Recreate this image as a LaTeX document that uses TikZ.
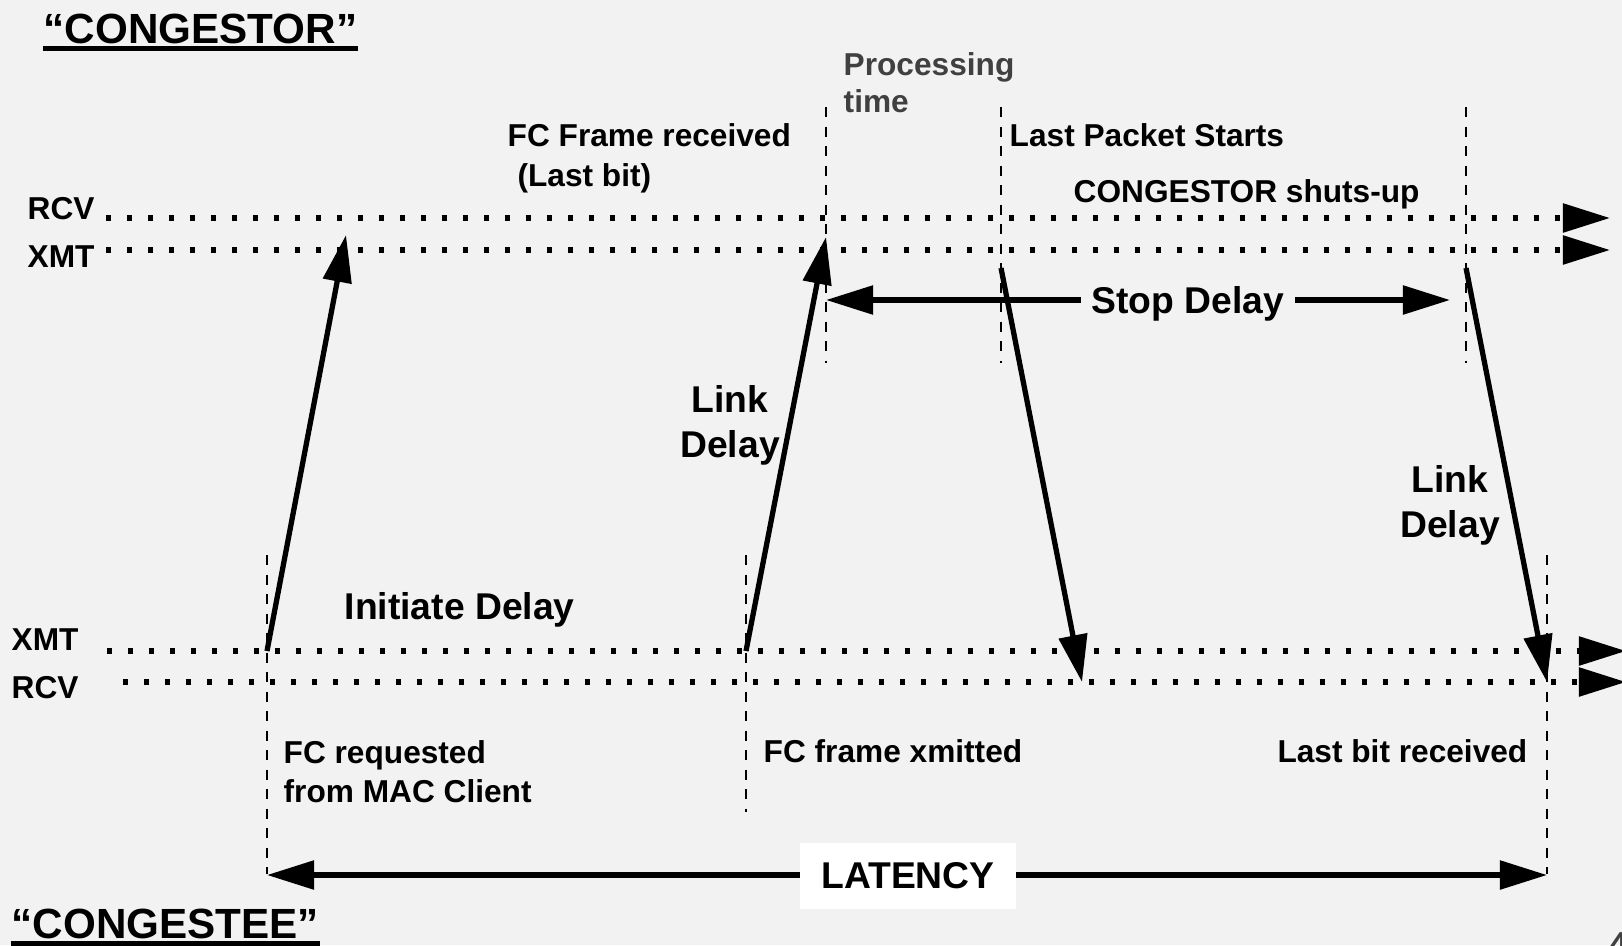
\documentclass[tikz,border=0pt]{standalone}
\usepackage{fontspec}
\setmainfont{Liberation Sans}
\usepackage{tikz}
\usetikzlibrary{positioning}
\usetikzlibrary{arrows.meta}
\definecolor{slidebg}{HTML}{F2F2F2}
\definecolor{procgray}{HTML}{404040}
\tikzset{
  lbl/.style={inner sep=0pt, font=\fontsize{9}{11.4}\selectfont\bfseries},
  biglbl/.style={inner sep=0pt, font=\fontsize{10.6}{12.8}\selectfont\bfseries},
  ttl/.style={inner sep=0pt, font=\fontsize{12}{14}\selectfont\bfseries},
  sigline/.style={line width=1.5pt, dash pattern=on 1.5pt off 4.47pt, -{Triangle[length=13.4pt,width=8pt]}},
  guide/.style={line width=0.8pt, dash pattern=on 2.85pt off 2.7pt},
  frame/.style={line width=1.5pt, -{Triangle[length=13.4pt,width=8pt]}},
  span/.style={line width=1.5pt, {Triangle[length=13.4pt,width=8pt]}-{Triangle[length=13.4pt,width=8pt]}},
  uline/.style={line width=1.42pt},
}

\begin{document}
\begin{tikzpicture}[x=0.01cm, y=-0.01cm]
\useasboundingbox (0,0) rectangle (1622,945);
\clip (0,0) rectangle (1622,945);
\fill[slidebg] (0,0) rectangle (1622,945);

% titles
\node[ttl, anchor=base west] (congestor) at (43,43) {“CONGESTOR”};
\draw[uline] ([yshift=-1.7pt]congestor.base west) -- ([yshift=-1.7pt]congestor.base east);
\node[ttl, anchor=base west] (congestee) at (11,938) {“CONGESTEE”};
\draw[uline] ([yshift=-1.45pt]congestee.base west) -- ([yshift=-1.45pt]congestee.base east);

% time guides
\foreach \x/\ya/\yb in {267/555/874, 746/555/812, 826/107/363, 1001/107/363, 1466/107/363, 1547/555/874}
  \draw[guide] (\x,\ya) -- (\x,\yb);

% signal lines
\node[lbl, anchor=base west] (rcvtop) at (27,219) {RCV};
\node[lbl, anchor=base west] (xmttop) at (27,267) {XMT};
\node[lbl, anchor=base west] (xmtbot) at (11,650) {XMT};
\node[lbl, anchor=base west] (rcvbot) at (11,698) {RCV};
\draw[sigline] (106,218) -- (1610,218);
\draw[sigline] (106,250) -- (1610,250);
\draw[sigline] (107,651) -- (1626,651);
\draw[sigline] (123,682) -- (1626,682);

% frames on the link
\coordinate (fcreq) at (267,651);
\coordinate (fcrcv) at (346,235);
\coordinate (fcxmt) at (746,651);
\coordinate (fclast) at (826,237);
\coordinate (pktstart) at (1001,268);
\coordinate (pktarr) at (1082,682);
\coordinate (shutup) at (1466,268);
\coordinate (lastbit) at (1547,682);
\draw[frame] (fcreq) -- (fcrcv);
\draw[frame] (fcxmt) -- (fclast);
\draw[frame] (pktstart) -- (pktarr);
\draw[frame] (shutup) -- (lastbit);

% delays
\coordinate (stopL) at (826,300);
\coordinate (stopR) at (1450,300);
\draw[span] (stopL) -- (stopR);
\node[biglbl, fill=slidebg, inner xsep=3pt, anchor=base] (stopdelay) at (1188,313) {Stop Delay};
\coordinate (latL) at (267,875);
\coordinate (latR) at (1547,875);
\draw[span] (latL) -- (latR);
\node[biglbl, fill=white, minimum width=61.5pt, minimum height=19pt] (latency) at (908,876) {LATENCY};

% labels
\node[lbl, text=procgray, align=left, anchor=north west, font=\fontsize{9}{10.5}\selectfont\bfseries] (proc) at (843,52) {Processing\\time};
\node[lbl, align=left, anchor=north west] (fcframe) at (507,123) {FC Frame received\\\hspace{2.8pt}(Last bit)};
\node[lbl, anchor=base west] (lastpkt) at (1009,146) {Last Packet Starts};
\node[lbl, anchor=base west] (shuts) at (1073,202) {CONGESTOR shuts-up};
\node[biglbl, align=center, anchor=north] (link1) at (730,385) {Link\\Delay};
\node[biglbl, align=center, anchor=north] (link2) at (1450,465) {Link\\Delay};
\node[biglbl, anchor=base west] (initiate) at (344,619) {Initiate Delay};
\node[lbl, align=left, anchor=north west, font=\fontsize{9}{11.1}\selectfont\bfseries] (fcreqtxt) at (283,740) {FC requested\\from MAC Client};
\node[lbl, anchor=base west] (fcxmttxt) at (763,762) {FC frame xmitted};
\node[lbl, anchor=base east] (lastbittxt) at (1528,762) {Last bit received};
\node[text=procgray, inner sep=0pt, anchor=north west, font=\fontsize{14}{16}\selectfont] (pageno) at (1603,932) {4};
\end{tikzpicture}
\end{document}
